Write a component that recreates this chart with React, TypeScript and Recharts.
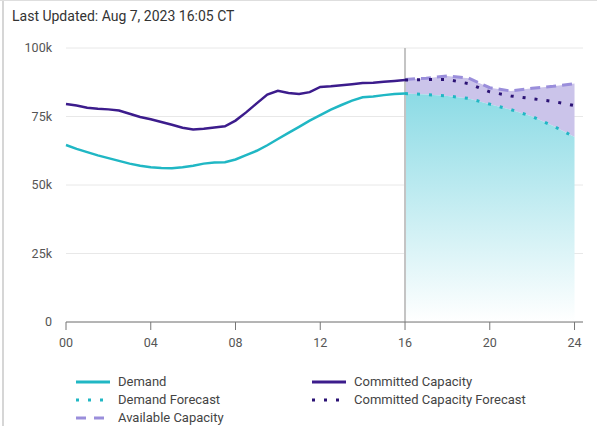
import {
  Area,
  CartesianGrid,
  ComposedChart,
  Line,
  ReferenceLine,
  XAxis,
  YAxis,
} from "recharts";

// actuals, half-hourly, in MW
const actualHours = [
  0, 0.5, 1, 1.5, 2, 2.5, 3, 3.5, 4, 4.5, 5, 5.5, 6, 6.5, 7, 7.5, 8, 8.5, 9, 9.5, 10, 10.5, 11,
  11.5, 12, 12.5, 13, 13.5, 14, 14.5, 15, 15.5, 16,
];
const demand = [
  64600, 63200, 62000, 60800, 59800, 58800, 57800, 57000, 56500, 56200, 56100, 56500, 57000,
  57800, 58200, 58300, 59300, 60900, 62500, 64500, 66800, 69000, 71200, 73500, 75500, 77500,
  79200, 80800, 82000, 82300, 82800, 83200, 83400,
];
const committed = [
  79600, 79000, 78200, 77800, 77600, 77200, 76000, 74800, 74000, 73000, 72000, 70900, 70300,
  70500, 71000, 71400, 73500, 76500, 79800, 83000, 84400, 83600, 83200, 83900, 85800, 86000,
  86400, 86800, 87200, 87300, 87700, 88000, 88300,
];

// forecast, hourly
const forecastHours = [16, 17, 18, 19, 20, 21, 22, 23, 24];
const demandForecast = [83400, 83000, 82500, 81600, 79500, 77500, 75000, 71500, 67500];
const committedForecast = [88300, 88500, 88500, 87000, 84000, 82500, 81500, 80500, 79000];
const availableCapacity = [88500, 89000, 89800, 89000, 85500, 84300, 85300, 86000, 87000];

const xTicks = [0, 4, 8, 12, 16, 20, 24];
const yTicks = [0, 25000, 50000, 75000, 100000];

const TEAL = "#20b7c4";
const PURPLE = "#3c1c8c";
const PURPLE_DOT = "#2b1275";
const LAVENDER = "#9a8edb";

type Row = {
  hour: number;
  demand?: number;
  committed?: number;
  demandForecast?: number;
  committedForecast?: number;
  available?: number;
  band?: [number, number];
};

const rows: Row[] = actualHours.map((h, i) => ({
  hour: h,
  demand: demand[i],
  committed: committed[i],
}));
forecastHours.forEach((h, i) => {
  let row = rows.find((r) => r.hour === h);
  if (!row) {
    row = { hour: h };
    rows.push(row);
  }
  row.demandForecast = demandForecast[i];
  row.committedForecast = committedForecast[i];
  row.available = availableCapacity[i];
  row.band = [demandForecast[i], availableCapacity[i]];
});

const fmtHour = (v: number) => String(v).padStart(2, "0");
const fmtK = (v: number) => (v === 0 ? "0" : `${v / 1000}k`);

function LegendItem({ label, color, dash, x, y }: any) {
  return (
    <div
      style={{
        position: "absolute",
        left: x,
        top: y,
        display: "flex",
        alignItems: "center",
        lineHeight: "15px",
      }}
    >
      <svg width={36} height={6} style={{ marginRight: 7 }}>
        <line
          x1={1}
          y1={3}
          x2={35}
          y2={3}
          stroke={color}
          strokeWidth={3}
          strokeDasharray={dash}
        />
      </svg>
      <span>{label}</span>
    </div>
  );
}

export default function App() {
  return (
    <div
      style={{
        position: "absolute",
        left: 0,
        top: 0,
        width: 597,
        height: 426,
        overflow: "hidden",
        background: "#fff",
        fontFamily: "Roboto, 'Noto Sans', sans-serif",
        color: "#444",
        fontSize: 13,
      }}
    >
      <div style={{ position: "absolute", left: 2, top: 0, bottom: 0, width: 2, background: "#d6d6d6" }} />
      <div style={{ position: "absolute", left: 0, top: 0, right: 0, height: 1, background: "#dedede" }} />
      <div style={{ position: "absolute", left: 12, top: 8, fontSize: 14, color: "#333" }}>
        Last Updated: Aug 7, 2023 16:05 CT
      </div>

      <div style={{ position: "absolute", left: 0, top: 0 }}>
        <ComposedChart
          width={597}
          height={360}
          data={rows}
          margin={{ top: 48, right: 14, left: 0, bottom: 0 }}
        >
          <defs>
            <linearGradient id="demandFill" x1="0" y1="0" x2="0" y2="1">
              <stop offset="0%" stopColor="#8cdbe5" stopOpacity={1} />
              <stop offset="100%" stopColor="#ffffff" stopOpacity={1} />
            </linearGradient>
          </defs>
          <CartesianGrid vertical={false} stroke="#e8e8e8" />
          <XAxis
            dataKey="hour"
            type="number"
            domain={[0, 24.4]}
            ticks={xTicks}
            tickFormatter={fmtHour}
            stroke="#777"
            tickSize={8}
            tickMargin={8}
            height={38}
            tick={{ fill: "#555", fontSize: 12.5 }}
          />
          <YAxis
            domain={[0, 100000]}
            ticks={yTicks}
            tickFormatter={fmtK}
            axisLine={false}
            tickLine={false}
            width={66}
            tickMargin={8}
            tick={{ fill: "#555", fontSize: 12.5 }}
          />
          <Area
            dataKey="band"
            stroke="none"
            fill="#cbc4ea"
            fillOpacity={1}
            isAnimationActive={false}
          />
          <Area
            dataKey="demandForecast"
            stroke="none"
            fill="url(#demandFill)"
            fillOpacity={1}
            isAnimationActive={false}
          />
          <ReferenceLine x={16} stroke="#c4c4c4" strokeWidth={2} />
          <Line
            dataKey="demand"
            stroke={TEAL}
            strokeWidth={2.5}
            dot={false}
            isAnimationActive={false}
          />
          <Line
            dataKey="committed"
            stroke={PURPLE}
            strokeWidth={2.5}
            dot={false}
            isAnimationActive={false}
          />
          <Line
            dataKey="available"
            stroke={LAVENDER}
            strokeWidth={3}
            strokeDasharray="10 6"
            dot={false}
            isAnimationActive={false}
          />
          <Line
            dataKey="demandForecast"
            stroke={TEAL}
            strokeWidth={3}
            strokeDasharray="3 9"
            dot={false}
            isAnimationActive={false}
          />
          <Line
            dataKey="committedForecast"
            stroke={PURPLE_DOT}
            strokeWidth={3}
            strokeDasharray="3 9"
            dot={false}
            isAnimationActive={false}
          />
        </ComposedChart>
      </div>

      <LegendItem label="Demand" color={TEAL} x={75} y={374} />
      <LegendItem label="Committed Capacity" color={PURPLE} x={311} y={374} />
      <LegendItem label="Demand Forecast" color={TEAL} dash="3 9" x={75} y={392} />
      <LegendItem label="Committed Capacity Forecast" color={PURPLE_DOT} dash="3 9" x={311} y={392} />
      <LegendItem label="Available Capacity" color={LAVENDER} dash="10 8" x={75} y={410} />
    </div>
  );
}
